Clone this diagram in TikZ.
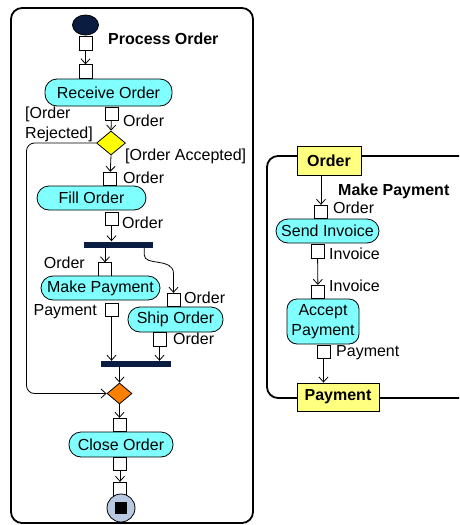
\documentclass[tikz,border=0pt]{standalone}
\usepackage{fontspec}
\setmainfont{Liberation Sans}
\usetikzlibrary{arrows.meta,shapes.geometric,calc}
\definecolor{navy}{RGB}{10,28,64}
\definecolor{actcyan}{RGB}{128,255,255}
\definecolor{parmyel}{RGB}{255,255,128}
\definecolor{decyel}{RGB}{255,255,0}
\definecolor{decorg}{RGB}{255,128,0}
\definecolor{finblue}{RGB}{184,200,224}
\tikzset{
  every node/.style={font=\fontsize{16}{20}\selectfont, inner sep=0pt},
  action/.style={draw, line width=0.8pt, fill=actcyan, rectangle, rounded corners=12pt},
  pin/.style={draw, line width=0.8pt, fill=white, minimum width=13pt, minimum height=13.5pt},
  lbl/.style={anchor=west},
  lblr/.style={anchor=east},
  bar/.style={fill=navy, minimum height=6pt},
  param/.style={draw, line width=0.8pt, fill=parmyel, font=\fontsize{16}{20}\selectfont\bfseries},
  decision/.style={draw, line width=0.8pt, diamond, aspect=1.2},
  frame/.style={draw, line width=1.8pt, rounded corners=11pt},
  flow/.style={draw, line width=0.8pt, -{Straight Barb[length=5pt,width=9pt]}},
}
\begin{document}
\begin{tikzpicture}[x=1pt,y=-1pt]
\useasboundingbox (0,0) rectangle (459,525);
\clip (0,0) rectangle (459,525);
% frames
\draw[frame] (11,8) rectangle (253,523);
\draw[frame] (267,156) rectangle (480,398);
\node[anchor=west, font=\fontsize{16}{20}\selectfont\bfseries] (t1) at (108,39) {Process Order};
\node[anchor=west, font=\fontsize{16}{20}\selectfont\bfseries] (t2) at (338,191) {Make Payment};

% Process Order
\node[ellipse, draw, line width=0.8pt, fill=navy, minimum width=26pt, minimum height=20pt] (init) at (85.5,25) {};
\node[pin] (p0) at (85.5,43.5) {};
\node[pin] (p1) at (85.5,71.5) {};
\node[action, minimum width=127pt, minimum height=27pt] (recv) at (108.5,92.5) {Receive Order};
\node[pin] (p2) at (111.5,114) {};
\node[lbl] (l2) at (123,121) {Order};
\node[decision, fill=decyel, minimum width=29pt, minimum height=24pt] (d1) at (111,143) {};
\node[anchor=west, align=left] (lrej) at (25,124) {[Order\\Rejected]};
\node[lbl] (lacc) at (125,156) {[Order Accepted]};
\node[pin] (p3) at (110,179) {};
\node[lbl] (l3) at (123,178) {Order};
\node[action, minimum width=109pt, minimum height=24pt] (fill) at (91.5,198) {Fill Order};
\node[pin] (p4) at (111.5,219) {};
\node[lbl] (l4) at (122,223) {Order};
\node[bar, minimum width=69pt] (fork) at (118.5,244.5) {};
\node[pin] (p5) at (105,269.5) {};
\node[lblr] (l5) at (85,263) {Order};
\node[action, minimum width=119pt, minimum height=24pt] (mkpay) at (100.5,288) {Make Payment};
\node[pin] (p6) at (111.5,310) {};
\node[lblr] (l6) at (97,312) {Payment};
\node[pin] (p7) at (173.5,300) {};
\node[lbl] (l7) at (184,298) {Order};
\node[action, minimum width=95pt, minimum height=25pt] (ship) at (175.5,319.5) {Ship Order};
\node[pin] (p8) at (159.5,339.5) {};
\node[lbl] (l8) at (173,339) {Order};
\node[bar, minimum width=70pt] (join) at (136,364) {};
\node[decision, fill=decorg, minimum width=25pt, minimum height=21pt] (d2) at (119.5,393.5) {};
\node[pin] (p9) at (119.5,425) {};
\node[action, minimum width=104pt, minimum height=25pt] (close) at (121,444.5) {Close Order};
\node[pin] (p10) at (120,464) {};
\node[pin] (p11) at (120,489) {};
\node[circle, draw, line width=0.8pt, fill=finblue, minimum size=28pt] (fin) at (121,508) {};
\node[fill=black, minimum size=11.5pt] (finsq) at (fin) {};

\coordinate (fk) at ($(fork.south east)+(-9,0)$);
\coordinate (rj) at (26.5,393.5);

\path[flow] (p0) -- (p1);
\path[flow] (p2) -- (d1.north);
\path[flow] (d1.south) -- (p3);
\path[flow] (p4) -- (p4 |- fork.north);
\path[flow] (p5 |- fork.south) -- (p5);
\path[flow] (fk) -- ($(fk)+(0,7)$) .. controls ($(fk)+(0,19)$) and ($(p7.north)+(0,-36)$) .. ($(p7.north)+(0,-19)$) -- (p7.north);
\path[flow] (p6) -- (p6 |- join.north);
\path[flow] (p8) -- (p8 |- join.north);
\path[flow] (d2 |- join.south) -- (d2.north);
\path[flow, rounded corners=8pt] (d1.west) -| (rj) -- (d2.west);
\path[flow] (d2.south) -- (p9);
\path[flow] (p10) -- (p11);

% Make Payment
\node[param, minimum width=64pt, minimum height=29pt] (ord) at (329,160.5) {Order};
\node[pin] (q1) at (321,212) {};
\node[lbl] (lq1) at (333,208) {Order};
\node[action, minimum width=103pt, minimum height=24pt] (send) at (327.5,231) {Send Invoice};
\node[pin] (q2) at (317.5,251.5) {};
\node[lbl] (lq2) at (329,254) {Invoice};
\node[pin] (q3) at (318,292) {};
\node[lbl] (lq3) at (329,286) {Invoice};
\node[action, rounded corners=10pt, align=center, minimum width=72pt, minimum height=45pt] (acc) at (323,321.5) {Accept\\Payment};
\node[pin] (q4) at (323.5,352) {};
\node[lbl] (lq4) at (336,353) {Payment};
\node[param, minimum width=82pt, minimum height=28pt] (pay) at (338,397) {Payment};

\path[flow] (ord.south -| q1) -- (q1);
\path[flow] (q2) -- (q3);
\path[flow] (q4) -- (q4 |- pay.north);
\end{tikzpicture}
\end{document}
